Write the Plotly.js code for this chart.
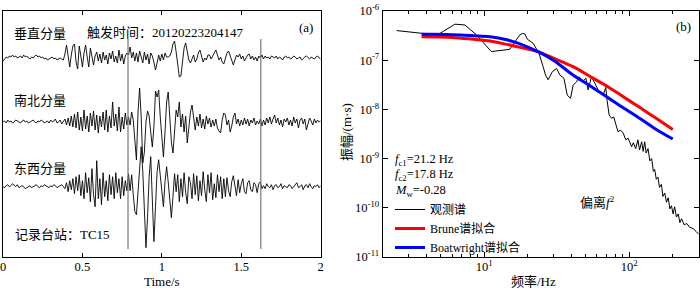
<!DOCTYPE html>
<html><head><meta charset="utf-8">
<script src="https://cdn.plot.ly/plotly-3.0.1.min.js"></script>
<style>html,body{margin:0;padding:0;background:#fff}#chart{width:700px;height:288px}</style>
</head><body><div id="chart"></div>
<script>
// ---------- data: panel (a) waveforms, sampled every 0.01 s ----------
const sampleInterval = 0.01; // s
const verticalComp = [-3,-1,1,0,2,1,3,1,2,0,1,2,0,3,1,2,0,-1,1,0,2,3,1,2,0,1,-1,0,-2,-1,0,1,-1,0,-2,-1,0,-1,-2,
 4,13,2,-9,3,12,14,-4,-11,12,2,-9,5,13,1,-9,10,3,-7,2,6,
 -3,4,-5,6,-2,3,-6,5,-1,7,-4,2,-5,8,-3,4,-6,2,5,
 3,11,0,6,-3,5,-4,7,1,-5,6,-2,4,-6,5,2,-4,-12,-5,3,-3,4,-2,5,1,
 1,2,6,14,17,6,-8,-19,-18,-6,10,15,6,-2,-5,0,3,-4,-1,5,8,2,-4,0,-2,3,
 3,-1,2,6,8,3,-2,1,-4,-6,0,5,7,2,-4,-7,-2,3,1,4,-1,2,-3,1,3,4,-1,2,-2,1,-3,2,0,3,
 -1,2,0,1,-1,2,1,0,2,-1,1,0,-2,1,2,0,1,-1,0,2,1,-1,0,1,-2,0,1,2,0,-1,1,0,-1,1,2,0,-1];
const northSouthComp = [0,1,-1,2,0,1,-1,0,2,1,0,-1,1,2,0,1,-1,0,1,2,0,-1,1,0,2,1,-1,0,1,-1,2,0,1,3,-1,0,2,-2,1,3,
 -3,4,-4,6,-5,8,-6,10,-8,5,-9,12,-7,6,-10,9,-4,11,-8,7,-11,6,-5,10,
 -8,12,-10,6,-6,20,-4,8,-9,15,-10,5,-7,9,-3,
 5,-3,10,2,-15,-38,10,34,5,-41,-30,0,
 11,6,-10,-25,-5,31,
 25,32,5,-20,-35,-10,20,
 30,5,-20,-31,-5,12,5,
 20,-5,8,-10,6,-21,-3,10,17,2,
 -8,5,-4,8,-6,3,-7,6,-2,4,-5,
 2,-4,3,-6,-9,-11,2,9,
 7,-3,2,-10,-4,5,9,-2,3,-4,2,
 -3,4,-2,3,-4,2,-1,4,-3,1,-2,3,-4,
 2,-3,4,-1,5,-2,3,7,-1,4,-3,2,-5,3,0,4,-3,2,-4,5,-1,3,-6,2,4,-2,3,-8,-2,4,1,-3,3,-1,2,0,1];
const eastWestComp = [0,-1,1,2,0,1,3,1,0,2,-1,0,1,0,-2,-1,0,1,-1,0,1,2,0,-1,1,0,2,1,0,-1,1,0,2,1,-1,0,1,2,0,-2,
 4,-5,6,-3,8,-7,10,-4,12,-9,6,-12,14,-6,9,-15,18,-8,-20,26,
 -12,8,-18,14,-10,6,-14,12,-8,10,-12,14,-6,8,-12,10,-9,6,-4,
 13,-4,12,-8,-25,-28,-5,20,40,15,-30,-61,-30,10,30,-10,-55,-20,15,27,10,-10,-20,5,20,5,-15,-31,-10,13,-5,12,
 -15,8,-10,14,-6,-17,10,4,-12,13,-8,11,-14,6,-9,15,-3,-15,12,-6,14,-13,3,-11,12,-5,10,-12,8,-10,
 9,-4,-10,5,11,-2,-9,7,-6,3,8,-5,-7,4,6,-3,-5,4,2,-6,3,5,-2,
 1,-2,3,0,-1,2,-3,1,2,-1,0,3,-2,1,0,-1,2,1,-2,0,1,4,-1,0,2,-3,1,2,-1,3,0,-2,1,0,2,-1,1];
const phaseMarkTimes = [0.787, 1.623];
const compLabels = ['垂直分量', '南北分量', '东西分量'];
const triggerLabel = '触发时间：20120223204147';
const stationLabel = '记录台站：TC15';
const timeTicks = [0, 0.5, 1, 1.5, 2];
const timeTitle = 'Time/s';

// ---------- data: panel (b) spectra ----------
const obsFreq = [2.49,3.79,4.95,6.29,7.36,8.87,11.2,15.0,17.6,18.4,19.1,19.9,21.8,23.9,25.5,26.5,27.6,29.6,31.6,33.3,35.5,37.4,39.4,41.1,43.4,45.2,47.7,50.3,52.1,55.0,58.0,61.1,66.2,69.0,70.5,72.8,75.6,78.4,80.9,83.9,87.2,91,94.9,98.4,104,107,111,115,118,122,125,128,131,135,139,143,147,150,154,158,162,167,171,176,181,186,191,196,201,206,212,218,224,230,240,250,262,276,290,300];
const obsAmp = [4.0e-7,3.5e-7,3.5e-7,5.4e-7,5.2e-7,3.25e-7,1.5e-7,1.66e-7,3.25e-7,3.5e-7,3.4e-7,2.66e-7,2.2e-7,1.38e-7,7.4e-8,5.0e-8,4.0e-8,5.9e-8,6.8e-8,5.0e-8,4.3e-8,1.95e-8,1.68e-8,3.1e-8,3.65e-8,4.6e-8,3.65e-8,4.3e-8,2.5e-8,4.6e-8,3.4e-8,2.5e-8,1.95e-8,2.8e-8,1.5e-8,7.7e-9,6.6e-9,7.0e-9,5.0e-9,3.5e-9,3.8e-9,3.3e-9,2.4e-9,2.6e-9,1.75e-9,2.1e-9,1.6e-9,2.4e-9,1.5e-9,2.2e-9,1.4e-9,2.2e-9,1.3e-9,1.6e-9,9e-10,1.0e-9,5.5e-10,6.0e-10,3.8e-10,4.2e-10,2.6e-10,3.0e-10,1.7e-10,2.0e-10,1.3e-10,1.6e-10,9.5e-11,1.1e-10,7.5e-11,1.05e-10,6.5e-11,7.5e-11,5.0e-11,6.0e-11,4.5e-11,4.8e-11,4.0e-11,3.8e-11,3.3e-11,2.95e-11];
const fitFreq = [3.7,6,8.4,11,14.3,18,23.5,30,41,55,70,90,118,150,200];
const bruneAmp = [3.0e-7,2.9e-7,2.66e-7,2.45e-7,2.1e-7,1.8e-7,1.49e-7,1.1e-7,7.4e-8,4.5e-8,3.0e-8,1.85e-8,1.1e-8,6.9e-9,3.9e-9];
const boatAmp = [3.35e-7,3.3e-7,3.15e-7,3.0e-7,2.6e-7,2.1e-7,1.49e-7,1.0e-7,5.0e-8,2.9e-8,1.8e-8,1.1e-8,6.6e-9,4.1e-9,2.5e-9];
const legendNames = ['观测谱', 'Brune谱拟合', 'Boatwright谱拟合'];
const ampTickVals = [1e-11,1e-10,1e-9,1e-8,1e-7,1e-6];
const ampTickText = ['10<sup>-11</sup>','10<sup>-10</sup>','10<sup>-9</sup>','10<sup>-8</sup>','10<sup>-7</sup>','10<sup>-6</sup>'];
const freqTickVals = [10, 100];
const freqTickText = ['10<sup>1</sup>', '10<sup>2</sup>'];
const freqMinorVals = [3,4,5,6,7,8,9,20,30,40,50,60,70,80,90,200,300];
const freqTitle = '频率/Hz';
const ampTitle = '振幅/(m·s)';
const paramLines = ['<i>f</i><sub>c1</sub>=21.2 Hz', '<i>f</i><sub>c2</sub>=17.8 Hz', '<i>M</i><sub>w</sub>=-0.28'];
const deviationLabel = '偏离<i>f</i><sup>2</sup>';

// ---------- layout helpers ----------
const W = 700, H = 288;
const px = v => v / W, py = v => 1 - v / H;
const FONT = 'Liberation Serif, Noto Sans CJK SC, serif';
const offsets = [-47, -111, -175.7];

const traces = [];
[verticalComp, northSouthComp, eastWestComp].forEach((arr, k) => {
  traces.push({type: 'scatter', mode: 'lines', x0: 0, dx: sampleInterval,
    y: arr.map(v => v + offsets[k]), xaxis: 'x', yaxis: 'y',
    line: {color: '#000', width: 0.9}, showlegend: false, hoverinfo: 'skip'});
});
traces.push({type: 'scatter', mode: 'lines', x: obsFreq, y: obsAmp, xaxis: 'x2', yaxis: 'y2',
  name: legendNames[0], line: {color: '#000', width: 1}});
traces.push({type: 'scatter', mode: 'lines', x: fitFreq, y: bruneAmp, xaxis: 'x2', yaxis: 'y2',
  name: legendNames[1], line: {color: '#ff0000', width: 3, shape: 'spline'}});
traces.push({type: 'scatter', mode: 'lines', x: fitFreq, y: boatAmp, xaxis: 'x2', yaxis: 'y2',
  name: legendNames[2], line: {color: '#0000ff', width: 3, shape: 'spline'}});

const yDom = [1 - 257 / H, 1 - 11 / H];
const axBase = {showline: true, linecolor: '#000', linewidth: 1, showgrid: false, zeroline: false,
  tickcolor: '#000', ticklabeloverflow: 'allow', tickfont: {family: FONT, size: 12.5, color: '#000'}};

const annText = (text, x, y, xanchor = 'left', extra = {}) => Object.assign({text, x, y, xref: 'paper', yref: 'paper',
  xanchor, yanchor: 'middle', showarrow: false, font: {family: FONT, size: 13, color: '#000'}}, extra);
const small = {font: {family: FONT, size: 12.5, color: '#000'}};

const annotations = [
  annText(compLabels[0], px(11.7), py(33.3)),
  annText(triggerLabel, px(85), py(32.3)),
  annText('(a)', px(305.5), py(27), 'center'),
  annText(compLabels[1], px(11.7), py(100)),
  annText(compLabels[2], px(11.7), py(168.3)),
  annText(stationLabel, px(13), py(234.3)),
  annText('(b)', px(683.3), py(26.7), 'center'),
  annText(paramLines[0], px(393), py(159.5), 'left', small),
  annText(paramLines[1], px(393), py(175), 'left', small),
  annText(paramLines[2], px(393), py(190.5), 'left', small),
  annText(deviationLabel, px(578), py(201.7)),
  annText(timeTitle, px(162), py(281), 'center'),
  annText(freqTitle, px(533), py(281), 'center'),
  annText(ampTitle, px(347), py(132), 'center', {textangle: -90})
];

const shapes = phaseMarkTimes.map(t => ({type: 'line', xref: 'x', yref: 'y', x0: t, x1: t, y0: -28, y1: -238,
  line: {color: '#777', width: 1.2}}));
shapes.push({type: 'line', xref: 'x2', yref: 'y2', x0: 1.844, y0: -9.502, x1: 2.097, y1: -8.404,
  line: {color: '#000', width: 1}});

const layout = {
  width: W, height: H, margin: {l: 0, r: 0, t: 0, b: 0},
  paper_bgcolor: '#fff', plot_bgcolor: '#fff',
  font: {family: FONT, size: 13, color: '#000'},
  xaxis: Object.assign({}, axBase, {domain: [3 / W, 320.7 / W], range: [0, 2], anchor: 'y',
    tickmode: 'array', tickvals: timeTicks, ticks: 'inside', ticklen: 4, mirror: 'ticks', ticklabelstandoff: -2}),
  yaxis: Object.assign({}, axBase, {domain: yDom, range: [-246, 0], anchor: 'x',
    ticks: '', showticklabels: false, mirror: true}),
  xaxis2: Object.assign({}, axBase, {domain: [382.7 / W, 699 / W], type: 'log', range: [0.30, 2.482], anchor: 'y2',
    tickmode: 'array', tickvals: freqTickVals, ticktext: freqTickText, ticks: 'inside', ticklen: 5, mirror: 'ticks',
    ticklabelstandoff: -2,
    minor: {tickmode: 'array', tickvals: freqMinorVals, ticks: 'inside', ticklen: 3, tickcolor: '#000', showgrid: false}}),
  yaxis2: Object.assign({}, axBase, {domain: yDom, type: 'log', range: [-11, -6], anchor: 'x2',
    tickmode: 'array', tickvals: ampTickVals, ticktext: ampTickText, ticks: 'inside', ticklen: 5, mirror: 'ticks'}),
  legend: {x: px(390), y: py(195), xanchor: 'left', yanchor: 'top', bgcolor: 'rgba(0,0,0,0)',
    borderwidth: 0, itemwidth: 30, font: {family: FONT, size: 12, color: '#000'}, tracegroupgap: 0},
  showlegend: true,
  annotations, shapes
};

Plotly.newPlot('chart', traces, layout, {staticPlot: true, displayModeBar: false});
</script></body></html>
